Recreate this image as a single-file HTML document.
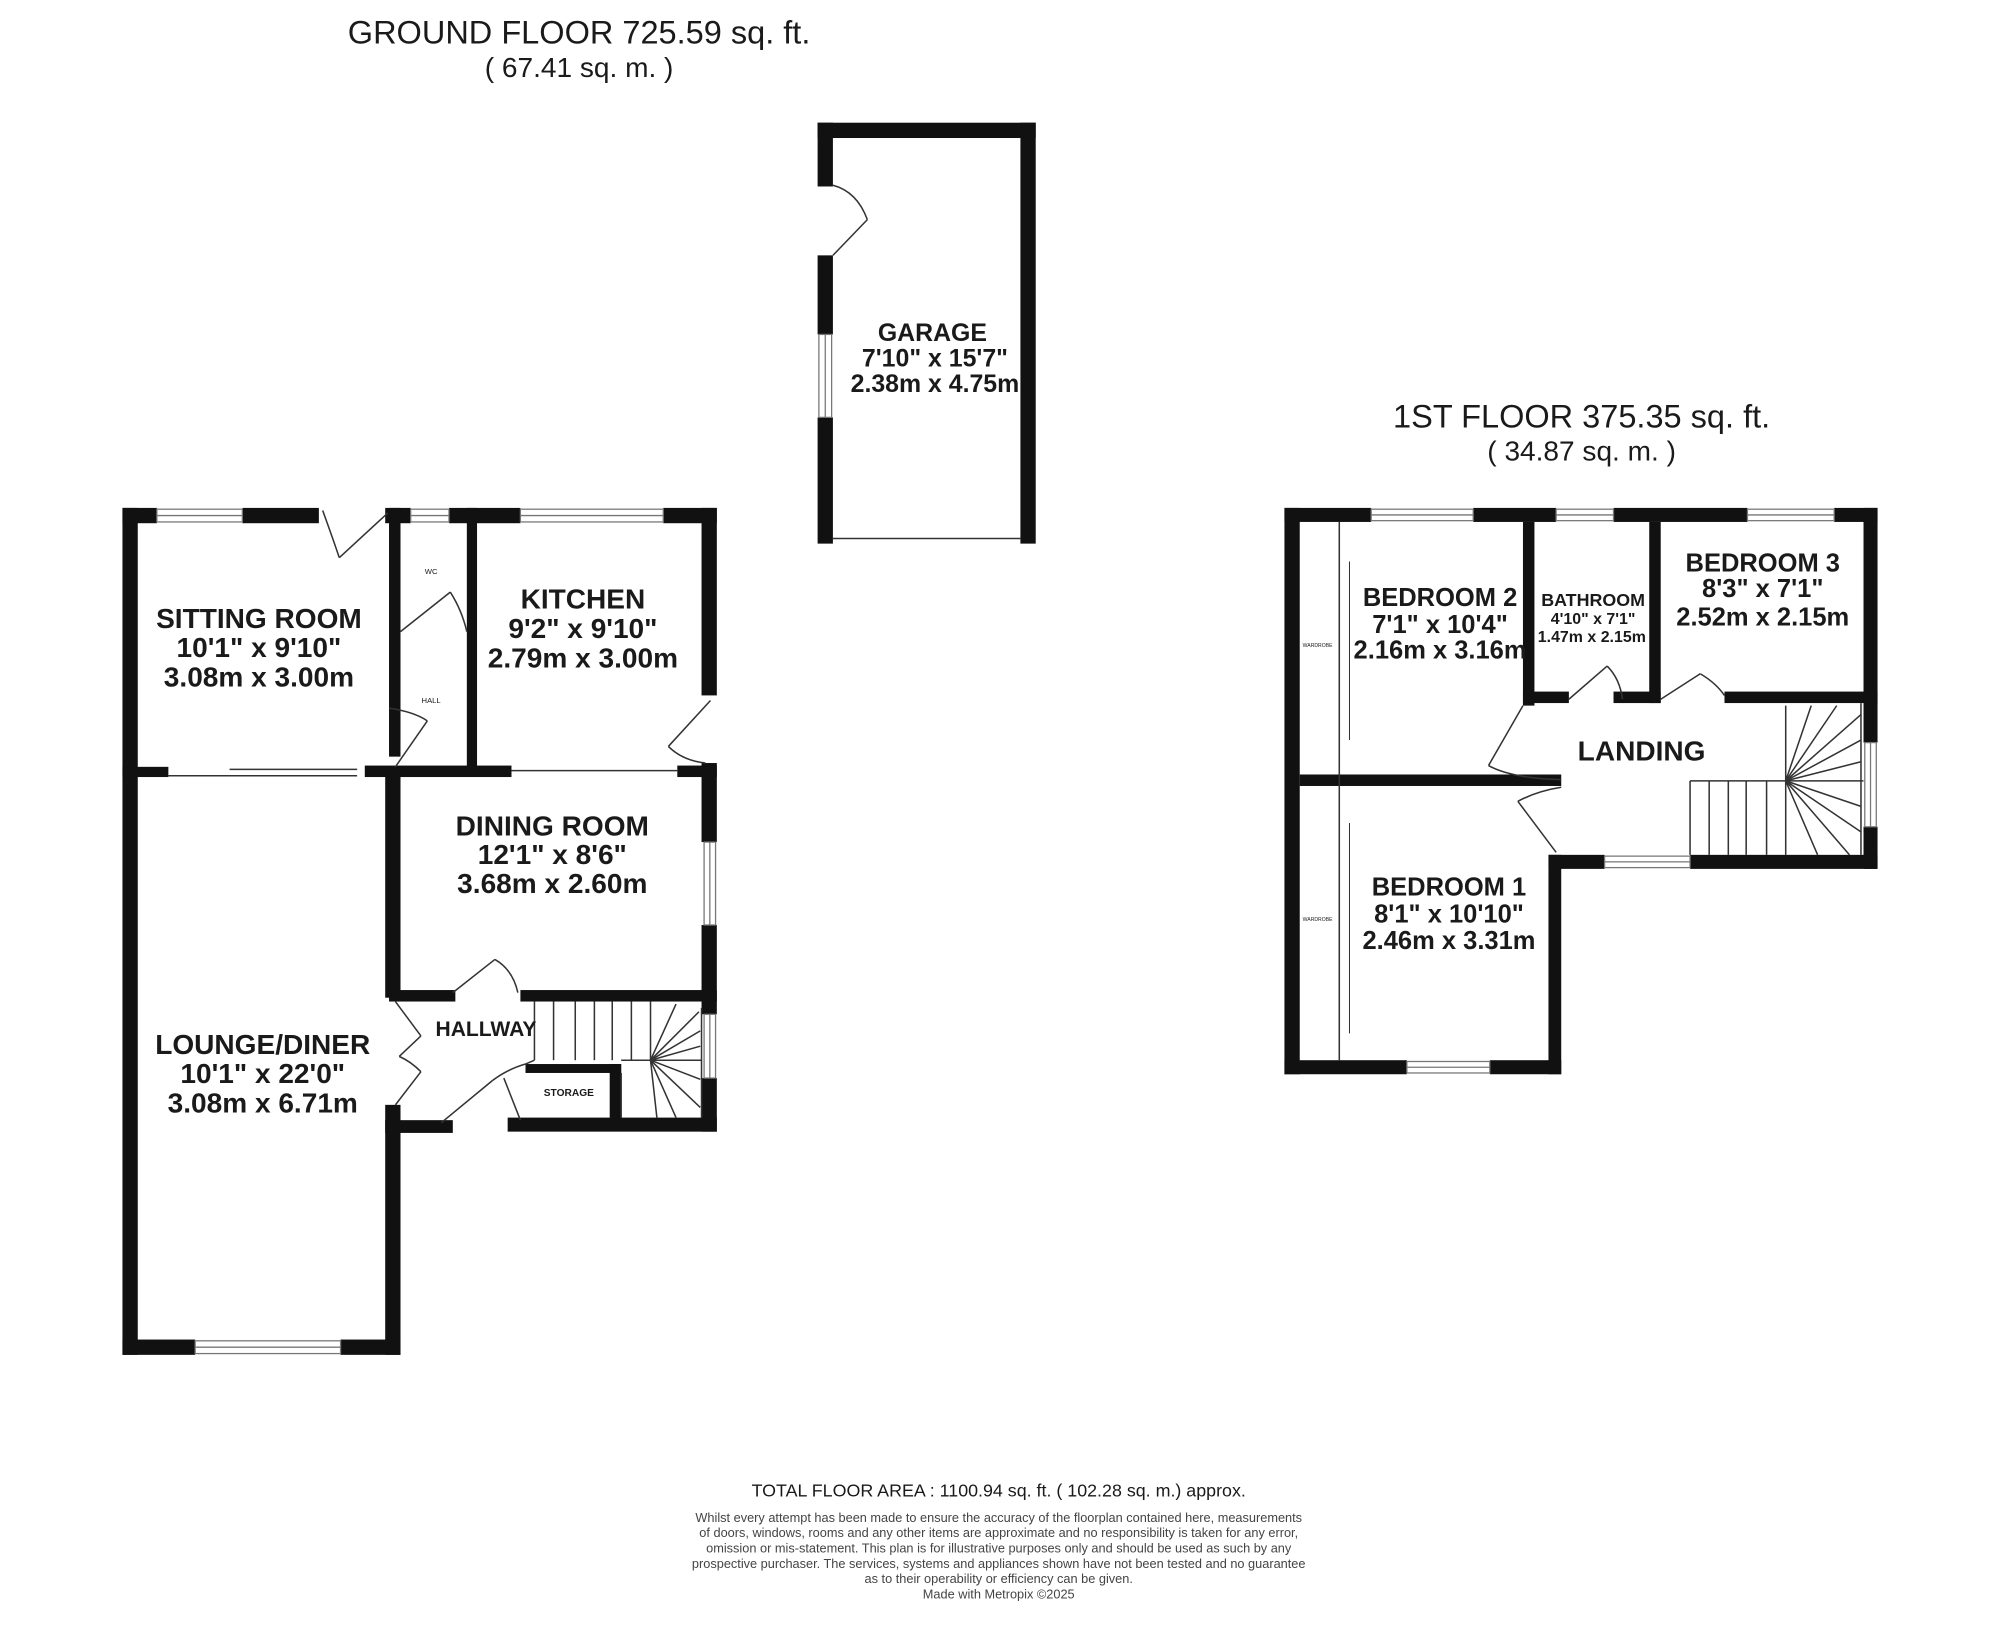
<!DOCTYPE html>
<html><head><meta charset="utf-8"><style>html,body{margin:0;padding:0;background:#fff}svg{display:block}</style></head>
<body>
<svg width="2000" height="1637" viewBox="0 0 1568 1283" xmlns="http://www.w3.org/2000/svg" font-family="Liberation Sans, Arial, sans-serif">
<rect width="1568" height="1283" fill="#fff"/>
<g fill="#111">
<rect x="96" y="398" width="12" height="664"/>
<rect x="96" y="398" width="27" height="12"/>
<rect x="190" y="398" width="60" height="12"/>
<rect x="302" y="398" width="20" height="12"/>
<rect x="352" y="398" width="56" height="12"/>
<rect x="520" y="398" width="42" height="12"/>
<rect x="550" y="398" width="12" height="147"/>
<rect x="550" y="598" width="12" height="62"/>
<rect x="550" y="725" width="12" height="70"/>
<rect x="550" y="845" width="12" height="42"/>
<rect x="398" y="876" width="164" height="11"/>
<rect x="305" y="398" width="9" height="195"/>
<rect x="366" y="398" width="8" height="208"/>
<rect x="96" y="601" width="36" height="8"/>
<rect x="286" y="600" width="115" height="9"/>
<rect x="531" y="600" width="31" height="9"/>
<rect x="302" y="605" width="12" height="177"/>
<rect x="305" y="776" width="52" height="9"/>
<rect x="408" y="776" width="154" height="9"/>
<rect x="412" y="834" width="75" height="7"/>
<rect x="478" y="834" width="9" height="44"/>
<rect x="302" y="866" width="12" height="196"/>
<rect x="302" y="878" width="53" height="10"/>
<rect x="96" y="1050" width="57" height="12"/>
<rect x="267" y="1050" width="47" height="12"/>
<rect x="641" y="96" width="171" height="12"/>
<rect x="641" y="96" width="12" height="50"/>
<rect x="641" y="200" width="12" height="62"/>
<rect x="641" y="327" width="12" height="99"/>
<rect x="800" y="96" width="12" height="330"/>
<rect x="1007" y="398" width="68" height="11"/>
<rect x="1155" y="398" width="65" height="11"/>
<rect x="1265" y="398" width="105" height="11"/>
<rect x="1438" y="398" width="34" height="11"/>
<rect x="1007" y="398" width="12" height="444"/>
<rect x="1461" y="398" width="11" height="184"/>
<rect x="1461" y="648" width="11" height="33"/>
<rect x="1214" y="670" width="44" height="11"/>
<rect x="1325" y="670" width="147" height="11"/>
<rect x="1214" y="670" width="10" height="172"/>
<rect x="1007" y="831" width="96" height="11"/>
<rect x="1168" y="831" width="56" height="11"/>
<rect x="1194" y="409" width="9" height="144"/>
<rect x="1194" y="542" width="36" height="9"/>
<rect x="1265" y="542" width="37" height="9"/>
<rect x="1293" y="409" width="9" height="142"/>
<rect x="1352" y="542" width="120" height="9"/>
<rect x="1019" y="607" width="205" height="9"/>
</g>
<g fill="#fff" stroke="#777" stroke-width="1">
<rect x="123" y="399" width="67" height="10"/><line x1="123" y1="404" x2="190" y2="404"/>
<rect x="322" y="399" width="30" height="10"/><line x1="322" y1="404" x2="352" y2="404"/>
<rect x="408" y="399" width="112" height="10"/><line x1="408" y1="404" x2="520" y2="404"/>
<rect x="552" y="660" width="9" height="65"/><line x1="556.5" y1="660" x2="556.5" y2="725"/>
<rect x="552" y="795" width="9" height="50"/><line x1="556.5" y1="795" x2="556.5" y2="845"/>
<rect x="153" y="1051" width="114" height="10"/><line x1="153" y1="1056" x2="267" y2="1056"/>
<rect x="642" y="262" width="10" height="65"/><line x1="647" y1="262" x2="647" y2="327"/>
<rect x="1075" y="399" width="80" height="9"/><line x1="1075" y1="403.5" x2="1155" y2="403.5"/>
<rect x="1220" y="399" width="45" height="9"/><line x1="1220" y1="403.5" x2="1265" y2="403.5"/>
<rect x="1370" y="399" width="68" height="9"/><line x1="1370" y1="403.5" x2="1438" y2="403.5"/>
<rect x="1462" y="582" width="9" height="66"/><line x1="1466.5" y1="582" x2="1466.5" y2="648"/>
<rect x="1258" y="671" width="67" height="9"/><line x1="1258" y1="675.5" x2="1325" y2="675.5"/>
<rect x="1103" y="832" width="65" height="9"/><line x1="1103" y1="836.5" x2="1168" y2="836.5"/>
</g>
<g fill="none" stroke="#333" stroke-width="1.2">
<line x1="132" y1="608" x2="280" y2="608"/><line x1="180" y1="603" x2="280" y2="603"/>
<line x1="401" y1="604" x2="531" y2="604"/>
<line x1="653" y1="422" x2="800" y2="422"/>
<line x1="304" y1="402" x2="266" y2="437"/><path d="M253 400 Q262 425 266 437"/>
<line x1="314" y1="495" x2="353" y2="464"/><path d="M353 464 Q362 478 366 495"/>
<line x1="310" y1="601" x2="335" y2="565"/><path d="M305 555 Q325 558 335 565"/>
<line x1="557" y1="549" x2="524" y2="585"/><path d="M524 585 Q535 596 553 598"/>
<line x1="355" y1="778" x2="388" y2="752"/><path d="M388 752 Q402 760 406 778"/>
<line x1="310" y1="785" x2="330" y2="812"/><line x1="330" y1="812" x2="313" y2="828"/><path d="M313 828 Q322 832 330 840"/><line x1="330" y1="840" x2="310" y2="866"/>
<line x1="346" y1="880" x2="386" y2="847"/><path d="M386 847 Q398 838 412 834"/>
<line x1="395" y1="845" x2="408" y2="878"/>
<line x1="653" y1="200" x2="680" y2="172"/><path d="M653 145 Q672 150 680 172"/>
<line x1="419" y1="785" x2="419" y2="831"/><line x1="434" y1="785" x2="434" y2="831"/><line x1="451" y1="785" x2="451" y2="831"/><line x1="466" y1="785" x2="466" y2="831"/><line x1="480" y1="785" x2="480" y2="831"/><line x1="495" y1="785" x2="495" y2="831"/><line x1="510" y1="785" x2="510" y2="831"/>
<line x1="487" y1="831" x2="550" y2="831"/><line x1="419" y1="831" x2="412" y2="834"/><line x1="487" y1="841" x2="487" y2="876"/><line x1="550" y1="790" x2="550" y2="876"/>
<line x1="510" y1="831" x2="530" y2="787"/><line x1="510" y1="831" x2="548" y2="793"/><line x1="510" y1="831" x2="549" y2="808"/><line x1="510" y1="831" x2="549" y2="820"/><line x1="510" y1="831" x2="549" y2="846"/><line x1="510" y1="831" x2="549" y2="868"/><line x1="510" y1="831" x2="530" y2="876"/><line x1="510" y1="831" x2="515" y2="876"/>
<line x1="1050" y1="409" x2="1050" y2="831"/><line x1="1058" y1="440" x2="1058" y2="580" stroke-width="0.8"/><line x1="1058" y1="645" x2="1058" y2="810" stroke-width="0.8"/>
<line x1="1230" y1="548" x2="1260" y2="522"/><path d="M1260 522 Q1270 532 1272 548"/>
<line x1="1302" y1="548" x2="1333" y2="528"/><path d="M1333 528 Q1345 535 1352 545"/>
<line x1="1194" y1="553" x2="1167" y2="600"/><path d="M1167 600 Q1185 610 1224 611"/>
<line x1="1220" y1="668" x2="1190" y2="628"/><path d="M1190 628 Q1205 620 1224 617"/>
<line x1="1325" y1="612" x2="1400" y2="612"/><line x1="1325" y1="612" x2="1325" y2="670"/><line x1="1340" y1="612" x2="1340" y2="670"/><line x1="1355" y1="612" x2="1355" y2="670"/><line x1="1369" y1="612" x2="1369" y2="670"/><line x1="1385" y1="612" x2="1385" y2="670"/>
<line x1="1400" y1="553" x2="1400" y2="670"/><line x1="1400" y1="612" x2="1461" y2="612"/><line x1="1459" y1="551" x2="1459" y2="670"/>
<line x1="1400" y1="612" x2="1420" y2="553"/><line x1="1400" y1="612" x2="1440" y2="553"/><line x1="1400" y1="612" x2="1459" y2="560"/><line x1="1400" y1="612" x2="1459" y2="580"/><line x1="1400" y1="612" x2="1459" y2="597"/><line x1="1400" y1="612" x2="1459" y2="632"/><line x1="1400" y1="612" x2="1459" y2="652"/><line x1="1400" y1="612" x2="1450" y2="670"/><line x1="1400" y1="612" x2="1425" y2="670"/>
</g>
<g fill="#1a1a1a" text-anchor="middle">
<text x="454" y="34" font-size="25.5">GROUND FLOOR 725.59 sq. ft.</text>
<text x="454" y="60" font-size="22">( 67.41 sq. m. )</text>
<text x="1240" y="335" font-size="25.5">1ST FLOOR 375.35 sq. ft.</text>
<text x="1240" y="361" font-size="22">( 34.87 sq. m. )</text>
<g font-weight="bold" font-size="22">
<text x="203" y="492">SITTING ROOM</text><text x="203" y="515">10'1" x 9'10"</text><text x="203" y="538">3.08m x 3.00m</text>
<text x="457" y="477">KITCHEN</text><text x="457" y="500">9'2" x 9'10"</text><text x="457" y="523">2.79m x 3.00m</text>
<text x="433" y="655">DINING ROOM</text><text x="433" y="677">12'1" x 8'6"</text><text x="433" y="700">3.68m x 2.60m</text>
<text x="206" y="826">LOUNGE/DINER</text><text x="206" y="849">10'1" x 22'0"</text><text x="206" y="872">3.08m x 6.71m</text>
<text x="731" y="267" font-size="19.5">GARAGE</text><text x="733" y="287" font-size="19.5">7'10" x 15'7"</text><text x="733" y="307" font-size="19.5">2.38m x 4.75m</text>
<text x="1129" y="475" font-size="20">BEDROOM 2</text><text x="1129" y="496" font-size="20">7'1" x 10'4"</text><text x="1129" y="516" font-size="20">2.16m x 3.16m</text>
<text x="1382" y="448" font-size="20">BEDROOM 3</text><text x="1382" y="468" font-size="20">8'3" x 7'1"</text><text x="1382" y="490" font-size="20">2.52m x 2.15m</text>
<text x="1136" y="702" font-size="20">BEDROOM 1</text><text x="1136" y="723" font-size="20">8'1" x 10'10"</text><text x="1136" y="744" font-size="20">2.46m x 3.31m</text>
<text x="1287" y="596" font-size="22">LANDING</text>
<text x="1249" y="475" font-size="14">BATHROOM</text><text x="1249" y="489" font-size="12.5">4'10" x 7'1"</text><text x="1248" y="503" font-size="12.5">1.47m x 2.15m</text>
<text x="381" y="812" font-size="16.5">HALLWAY</text>
<text x="446" y="859" font-size="8">STORAGE</text>
</g>
<text x="338" y="450" font-size="6">WC</text>
<text x="338" y="551" font-size="6">HALL</text>
<text x="1033" y="507" font-size="4">WARDROBE</text>
<text x="1033" y="722" font-size="4">WARDROBE</text>
<text x="783" y="1173" font-size="14">TOTAL FLOOR AREA : 1100.94 sq. ft. ( 102.28 sq. m.) approx.</text>
<g font-size="10" fill="#444">
<text x="783" y="1193">Whilst every attempt has been made to ensure the accuracy of the floorplan contained here, measurements</text>
<text x="783" y="1205">of doors, windows, rooms and any other items are approximate and no responsibility is taken for any error,</text>
<text x="783" y="1217">omission or mis-statement. This plan is for illustrative purposes only and should be used as such by any</text>
<text x="783" y="1229">prospective purchaser. The services, systems and appliances shown have not been tested and no guarantee</text>
<text x="783" y="1241">as to their operability or efficiency can be given.</text>
<text x="783" y="1253">Made with Metropix ©2025</text>
</g>
</g>
</svg>
</body></html>
